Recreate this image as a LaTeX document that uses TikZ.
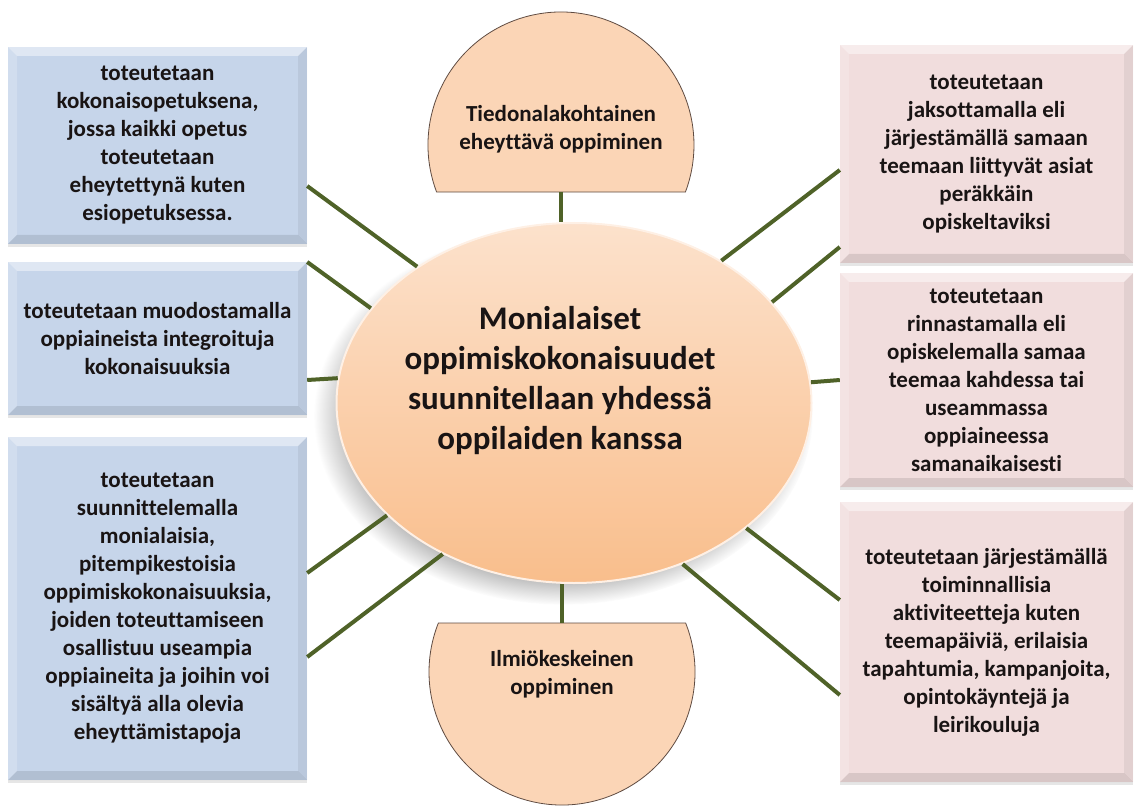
\documentclass[tikz,border=0pt]{standalone}
\usepackage{fontspec}
\setmainfont{Carlito}[Ligatures=NoCommon]
\usetikzlibrary{shapes,shadows}

\definecolor{boxblue}{RGB}{198,213,234}
\definecolor{boxpink}{RGB}{241,221,221}
\definecolor{peach}{RGB}{251,213,182}
\definecolor{peachdark}{RGB}{249,190,140}
\definecolor{olive}{RGB}{79,98,40}
\definecolor{ink}{RGB}{25,20,20}
\definecolor{rimline}{RGB}{95,75,65}

\begin{document}
\begin{tikzpicture}[x=1pt, y=-1pt,
      every node/.append style={text=ink, align=center, font=\bfseries\fontsize{23}{28}\selectfont},
      bevel/.style={path picture={
        \path (path picture bounding box.north west) coordinate (p1)
              (path picture bounding box.north east) coordinate (p2)
              (path picture bounding box.south east) coordinate (p3)
              (path picture bounding box.south west) coordinate (p4);
        \fill[white,opacity=.45] (p1) -- (p2) -- ([shift={(-9pt,-9pt)}]p2) -- ([shift={(9pt,-9pt)}]p1) -- cycle;
        \fill[white,opacity=.2] (p1) -- (p4) -- ([shift={(9pt,9pt)}]p4) -- ([shift={(9pt,-9pt)}]p1) -- cycle;
        \fill[black,opacity=.06] (p2) -- (p3) -- ([shift={(-9pt,9pt)}]p3) -- ([shift={(-9pt,-9pt)}]p2) -- cycle;
        \fill[black,opacity=.1] (p4) -- (p3) -- ([shift={(-9pt,9pt)}]p3) -- ([shift={(9pt,9pt)}]p4) -- cycle;
      }},
      box/.style={rectangle, inner sep=0pt, bevel,
        drop shadow={shadow xshift=0pt, shadow yshift=-3pt, opacity=.2}},
      leftbox/.style={box, fill=boxblue, minimum width=299},
      rightbox/.style={box, fill=boxpink, minimum width=293},
      half/.style={fill=peach, draw=rimline, line width=.8pt},
      link/.style={draw=olive, line width=4pt}]
    \tikzstyle{centre} = [ellipse, minimum width=475, minimum height=360,
      top color=peach!70!white, bottom color=peachdark, draw=peach!35!white, line width=2pt,
      circular drop shadow={shadow xshift=-10pt, shadow yshift=-12pt, shadow scale=1.05, opacity=.6}]
    \tikzstyle{bigword} = [font=\bfseries\fontsize{33}{40}\selectfont]

    \useasboundingbox (0,0) rectangle (1135,810);

    % left side
    \node[leftbox, minimum height=197] (tl) at (157.5,145.5)
      {toteutetaan\\kokonaisopetuksena,\\jossa kaikki opetus\\toteutetaan\\eheytettynä kuten\\esiopetuksessa.};
    \node[leftbox, minimum height=153] (ml) at (157.5,338.5)
      {toteutetaan muodostamalla\\oppiaineista integroituja\\kokonaisuuksia};
    \node[leftbox, minimum height=343] (bl) at (157.5,608.5)
      {toteutetaan\\suunnittelemalla\\monialaisia,\\pitempikestoisia\\oppimiskokonaisuuksia,\\joiden toteuttamiseen\\osallistuu useampia\\oppiaineita ja joihin voi\\sisältyä alla olevia\\eheyttämistapoja};

    % right side
    \node[rightbox, minimum height=218] (tr) at (986.5,154)
      {toteutetaan\\jaksottamalla eli\\järjestämällä samaan\\teemaan liittyvät asiat\\peräkkäin\\opiskeltaviksi};
    \node[rightbox, minimum height=214] (mr) at (986.5,380)
      {toteutetaan\\rinnastamalla eli\\opiskelemalla samaa\\teemaa kahdessa tai\\useammassa\\oppiaineessa\\samanaikaisesti};
    \node[rightbox, minimum height=280] (br) at (986.5,642)
      {toteutetaan järjestämällä\\toiminnallisia\\aktiviteetteja kuten\\teemapäiviä, erilaisia\\tapahtumia, kampanjoita,\\opintokäyntejä ja\\leirikouluja};

    % top and bottom segments
    \filldraw[half] ([shift={(159.3:133)}]561,145) arc[start angle=159.3, end angle=380.7, radius=133] -- cycle;
    \coordinate (tiedonbase) at (561,192);
    \node (tiedon) at (561,129) {Tiedonalakohtainen\\eheyttävä oppiminen};

    \filldraw[half] ([shift={(-21.6:133)}]562,672) arc[start angle=-21.6, end angle=201.6, radius=133] -- cycle;
    \coordinate (ilmiobase) at (562,623);
    \node (ilmio) at (562,674) {Ilmiökeskeinen\\oppiminen};

    % centre
    \node[centre] (c) at (574,403) {};
    \node[bigword] (ctext) at (560,381)
      {Monialaiset\\oppimiskokonaisuudet\\suunnitellaan yhdessä\\oppilaiden kanssa};

    % connectors
    \draw[link] (tl.east |- 0,186) -- (c.139.5);
    \draw[link] (ml.east |- 0,262) -- (c.155.8);
    \draw[link] (ml.east |- 0,380) -- (c.174.5);
    \draw[link] (bl.east |- 0,573) -- (c.211);
    \draw[link] (bl.east |- 0,657) -- (c.229);
    \draw[link] (tiedonbase) -- (tiedonbase |- c.north);
    \draw[link] (ilmiobase) -- (ilmiobase |- c.south);
    \draw[link] (tr.west |- 0,170) -- (c.44);
    \draw[link] (tr.west |- 0,247) -- (c.27.4);
    \draw[link] (mr.west |- 0,380) -- (c.5.5);
    \draw[link] (br.west |- 0,600) -- (c.324.5);
    \draw[link] (br.west |- 0,695) -- (c.304.4);
\end{tikzpicture}
\end{document}
